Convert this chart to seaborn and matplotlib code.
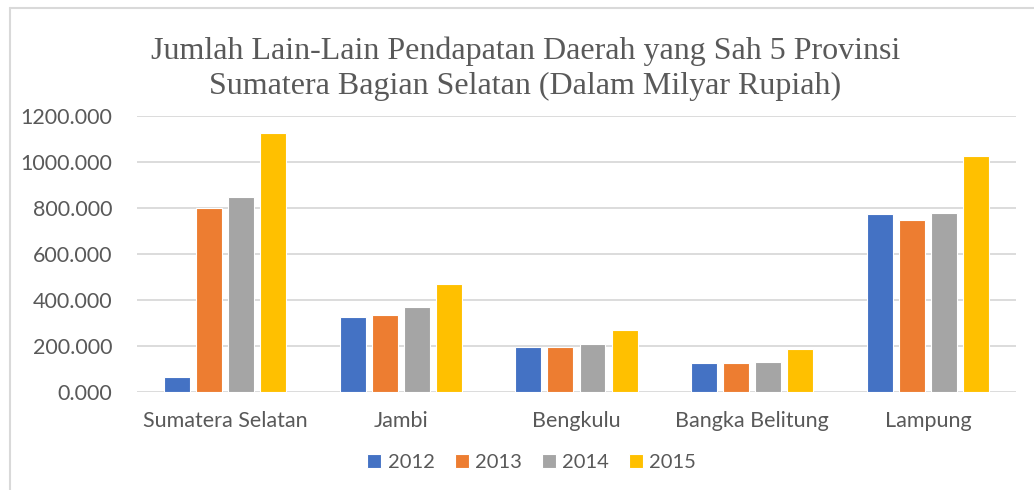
import pandas as pd
import matplotlib.pyplot as plt
import seaborn as sns
from matplotlib.lines import Line2D

# data
provinces = ['Sumatera Selatan', 'Jambi', 'Bengkulu', 'Bangka Belitung', 'Lampung']
years = ['2012', '2013', '2014', '2015']
v2012 = [64, 326, 196, 125, 772]
v2013 = [797, 333, 194, 126, 749]
v2014 = [846, 370, 209, 132, 778]
v2015 = [1126, 470, 270, 186, 1026]
colors = ['#4472C4', '#ED7D31', '#A5A5A5', '#FFC000']

df = pd.DataFrame({'Provinsi': provinces, '2012': v2012, '2013': v2013,
                   '2014': v2014, '2015': v2015})
mdf = df.melt(id_vars='Provinsi', var_name='Tahun', value_name='Nilai')

sns.set_style('white')
plt.rcParams['font.family'] = ['Lato', 'DejaVu Sans']

fig = plt.figure(figsize=(10.34, 4.9), dpi=100)
ax = fig.add_axes([0.1325, 0.2, 0.85, 0.564])

sns.barplot(data=mdf, x='Provinsi', y='Nilai', hue='Tahun', hue_order=years,
            palette=colors, width=0.73, gap=0.19, ax=ax, saturation=1,
            edgecolor='white', linewidth=0.8, zorder=3)

ax.set_ylim(0, 1200)
ax.set_yticks(range(0, 1201, 200))
ax.set_yticklabels([f'{v}.000' for v in range(0, 1201, 200)])
ax.yaxis.grid(True, color='#D9D9D9', linewidth=1.3, zorder=0)
ax.set_axisbelow(True)
for s in ax.spines.values():
    s.set_visible(False)
ax.tick_params(axis='both', length=0, labelsize=15.5, colors='#595959')
ax.tick_params(axis='y', pad=18)
ax.tick_params(axis='x', pad=14)
ax.set_xlabel('')
ax.set_ylabel('')

ax.legend(loc='upper center', bbox_to_anchor=(0.449, -0.16), ncol=4, frameon=False,
          fontsize=14.5, handlelength=0.7, handleheight=0.7, handletextpad=0.3,
          columnspacing=1.0, labelcolor='#595959')

fig.text(0.508, 0.86, 'Jumlah Lain-Lain Pendapatan Daerah yang Sah 5 Provinsi\n'
         'Sumatera Bagian Selatan (Dalam Milyar Rupiah)',
         ha='center', va='center', fontsize=23, color='#595959',
         family='Liberation Serif', linespacing=1.25)

# outer chart frame
fig.add_artist(Line2D([10 / 1034, 1], [1 - 8 / 490, 1 - 8 / 490], color='#D9D9D9', lw=1.5))
fig.add_artist(Line2D([10 / 1034, 10 / 1034], [0, 1 - 8 / 490], color='#D9D9D9', lw=1.5))

fig.savefig('out.png', dpi=100)
